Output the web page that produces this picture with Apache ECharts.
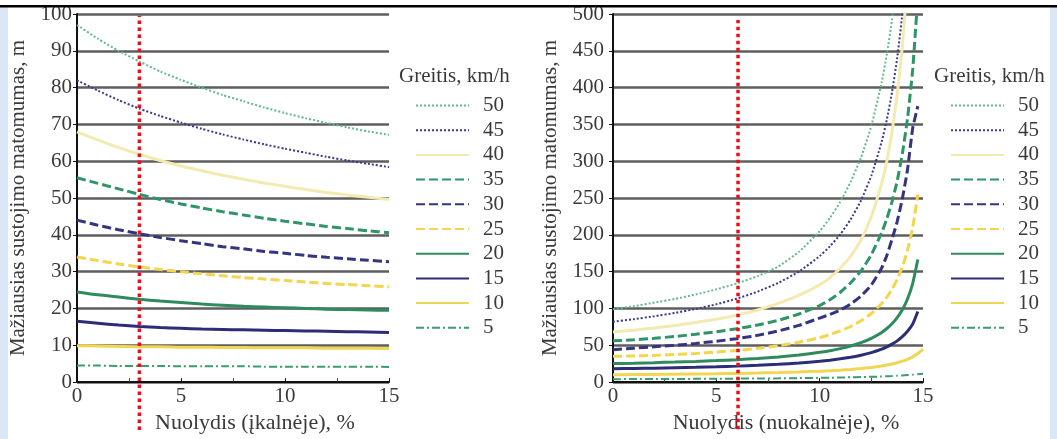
<!DOCTYPE html>
<html><head><meta charset="utf-8">
<script src="https://cdn.jsdelivr.net/npm/echarts@6/dist/echarts.min.js"></script>
<style>html,body{margin:0;padding:0;background:#fff}#c{width:1057px;height:439px}</style>
</head><body><div id="c"></div>
<script>
// ---- data ----
const speeds = ['50','45','40','35','30','25','20','15','10','5'];
const upX = [0,1,2,3,4,5,6,7,8,9,10,11,12,13,14,15];
const up50 = [97,93.3,90,87.1,84.4,82.1,80,78,76.3,74.6,73.1,71.7,70.4,69.2,68.1,67.2];
const up45 = [82,79.2,76.6,74.3,72.3,70.5,68.8,67.3,65.9,64.6,63.4,62.3,61.2,60.2,59.3,58.4];
const up40 = [68,65.8,63.7,61.9,60.2,58.7,57.4,56.2,55.1,54.1,53.2,52.3,51.5,50.8,50.2,49.6];
const up35 = [55.5,54,52.5,51,49.6,48.4,47.3,46.3,45.4,44.5,43.7,43,42.3,41.7,41.1,40.6];
const up30 = [44,42.6,41.4,40.3,39.3,38.4,37.6,36.8,36.2,35.5,35,34.4,33.9,33.5,33.1,32.7];
const up25 = [34,33,32.1,31.3,30.6,30,29.4,28.9,28.4,28,27.6,27.2,26.8,26.5,26.2,25.9];
const up20 = [24.5,23.7,23.1,22.5,22,21.6,21.2,20.9,20.6,20.4,20.2,20,19.8,19.7,19.6,19.5];
const up15 = [16.5,16,15.5,15.1,14.8,14.6,14.4,14.3,14.2,14.1,14,13.9,13.8,13.7,13.6,13.5];
const up10 = [9.9,9.8,9.7,9.6,9.6,9.5,9.5,9.4,9.4,9.3,9.3,9.3,9.2,9.2,9.2,9.1];
const up5  = [4.5,4.5,4.4,4.4,4.4,4.3,4.3,4.3,4.3,4.2,4.2,4.2,4.2,4.2,4.2,4.1];

const dnX = [0,1,2,3,4,5,6,7,8,9,10,10.5,11,11.5,12,12.5,13,13.25,13.5,13.75,14,14.25,14.5,14.75,15];
const dn50 = [99,103,108,113,119,126,134,144,157,177,205,223,245,272,305,348,407,445,492,550,null,null,null,null,null];
const dn45 = [82,85.5,89.4,94,99.4,105.7,113.4,122.9,134.8,150.2,171.1,184.5,200.8,221,246.7,280.3,326.4,356.6,393.5,440,500,581,null,null,null];
const dn40 = [68,70.5,73.5,77,81,85.5,91,98,107,118,132,142,155,171,193,225,270,300,340,390,456,545,null,null,null];
const dn35 = [56,57.5,59.5,62,65,68.5,72.5,77.5,84,92.5,104,112,122,135,151,173,203,222,245,273,310,358,424,524,null];
const dn30 = [44,46,48,50,52.5,55.5,59,63.5,69.5,77,87,92,98,106,117,132,155,172,194,218,249,288.5,344.5,375,null];
const dn25 = [35,35.5,36.3,37.5,39,40.8,43,45.8,49.5,54.2,60.5,64.6,69.5,75.5,83.2,93.2,106.7,115.4,126.1,139.4,156.3,178.7,209.7,255,null];
const dn20 = [25.1,25.7,26.4,27.2,28.1,29.2,30.5,32.1,34.1,36.8,40.4,42.7,45.5,49,53.5,59.4,67.4,72.8,79.3,87.6,98.3,112.9,133.9,166.5,null];
const dn15 = [18.1,18.5,18.9,19.5,20.1,20.8,21.7,22.8,24.2,25.9,28.3,29.8,31.6,33.8,36.5,40.1,44.8,47.9,51.6,56,61.7,69,78.8,96,null];
const dn10 = [10,10.2,10.4,10.7,11,11.3,11.8,12.3,12.9,13.7,14.8,15.4,16.2,17.2,18.4,19.9,21.9,23.1,24.5,26.3,28.4,31,34.3,38.8,44.9];
const dn5  = [4,4.1,4.2,4.3,4.4,4.5,4.7,4.9,5.1,5.4,5.8,6,6.2,6.5,6.8,7.2,7.6,7.9,8.2,8.6,9,9.5,10,10.6,11.2];

const refUp = [3, -13, 99.5];     // x, y from, y to
const refDn = [6.05, -64, 492];

const upSeries = [up50,up45,up40,up35,up30,up25,up20,up15,up10,up5];
const dnSeries = [dn50,dn45,dn40,dn35,dn30,dn25,dn20,dn15,dn10,dn5];

// ---- styles ----
const FONT = 'Liberation Serif';
const TXT = '#3a3a3a';
const sty = [
  {color:'#62b98d', type:[2,2], width:2},
  {color:'#3a3a8a', type:[2,2], width:2},
  {color:'#f3eab0', type:'solid', width:3},
  {color:'#2f9466', type:[9,4], width:3},
  {color:'#34347f', type:[9,4], width:3},
  {color:'#f3d54e', type:[9,4], width:3},
  {color:'#2f8a5d', type:'solid', width:3},
  {color:'#2d2d77', type:'solid', width:3},
  {color:'#f1d654', type:'solid', width:3},
  {color:'#3c9c6c', type:[8,3,2,3], width:2}
];

function pairs(xs, ys){ return xs.map((x,i)=>[x, ys[i]]); }

const series = [];
speeds.forEach((s,i)=>{
  series.push({name:s, type:'line', xAxisIndex:0, yAxisIndex:0, data:pairs(upX, upSeries[i]),
    symbol:'none', smooth:0.2, lineStyle:sty[i], itemStyle:{color:sty[i].color}});
  series.push({name:s, type:'line', xAxisIndex:1, yAxisIndex:1, data:pairs(dnX, dnSeries[i]),
    symbol:'none', smooth:0.15, connectNulls:false, lineStyle:sty[i], itemStyle:{color:sty[i].color}});
});
series.push({name:'refUp', type:'line', xAxisIndex:0, yAxisIndex:0, clip:false, silent:true, symbol:'none', z:20,
  data:[[refUp[0],refUp[1]],[refUp[0],refUp[2]]], lineStyle:{color:'#e8101a', width:3.5, type:[3.5,3.5]}});
series.push({name:'refDn', type:'line', xAxisIndex:1, yAxisIndex:1, clip:false, silent:true, symbol:'none', z:20,
  data:[[refDn[0],refDn[1]],[refDn[0],refDn[2]]], lineStyle:{color:'#e8101a', width:3.5, type:[3.5,3.5]}});

function xAx(idx, name, shift){
  return {gridIndex:idx, type:'value', min:0, max:15, interval:5,
    axisLine:{show:true, onZero:false, lineStyle:{color:'#111', width:2}},
    axisTick:{show:true, inside:true, length:4, lineStyle:{color:'#111'}},
    minorTick:{show:true, splitNumber:2, length:4, lineStyle:{color:'#444'}},
    splitLine:{show:false},
    axisLabel:{fontFamily:FONT, fontSize:21, color:TXT, margin:4},
    name:name, nameLocation:'middle', nameGap:24,
    nameTextStyle:{fontFamily:FONT, fontSize:22, color:TXT, padding:[0,0,0,shift]}};
}
function yAx(idx, max, interval, gap, margin){
  return {gridIndex:idx, type:'value', min:0, max:max, interval:interval,
    axisLine:{show:true, lineStyle:{color:'#111', width:2}},
    axisTick:{show:true, length:4, lineStyle:{color:'#111'}},
    splitLine:{show:true, lineStyle:{color:'#5e5e5e', width:2.5}},
    axisLabel:{fontFamily:FONT, fontSize:21, color:TXT, margin:margin},
    name:'Mažiausias sustojimo matomumas, m', nameLocation:'middle', nameGap:gap,
    nameTextStyle:{fontFamily:FONT, fontSize:21, color:TXT}};
}
function legend(left){
  return {data:speeds, orient:'vertical', left:left, top:95, padding:0, itemWidth:53, itemHeight:14, itemGap:3.7,
    selectedMode:false, itemStyle:{opacity:0},
    textStyle:{fontFamily:FONT, fontSize:21, color:TXT, lineHeight:20, padding:[0,0,0,9]}};
}
function ttl(left){
  return {text:'Greitis, km/h', left:left, top:66, padding:0,
    textStyle:{fontFamily:FONT, fontSize:21, fontWeight:'normal', color:TXT}};
}

const option = {
  animation:false,
  backgroundColor:'#ffffff',
  grid:[{left:77, top:14, width:312, height:377},
        {left:613, top:14, width:310, height:377}],
  xAxis:[xAx(0,'Nuolydis (įkalnėje), %',44), xAx(1,'Nuolydis (nuokalnėje), %',36)],
  yAxis:[yAx(0,100,10,48,5), yAx(1,500,50,52,9)],
  legend:[legend(415), legend(950)],
  title:[ttl(399), ttl(934)],
  graphic:[
    {type:'rect', z:100, shape:{x:0,y:7,width:8,height:432}, style:{fill:'#d9e7f6'}},
    {type:'rect', z:100, shape:{x:1050,y:7,width:7,height:432}, style:{fill:'#d9e7f6'}},
    {type:'rect', z:100, shape:{x:0,y:5,width:1057,height:2.5}, style:{fill:'#000'}}
  ],
  series:series
};
const chart = echarts.init(document.getElementById('c'));
chart.setOption(option);
</script>
</body></html>
